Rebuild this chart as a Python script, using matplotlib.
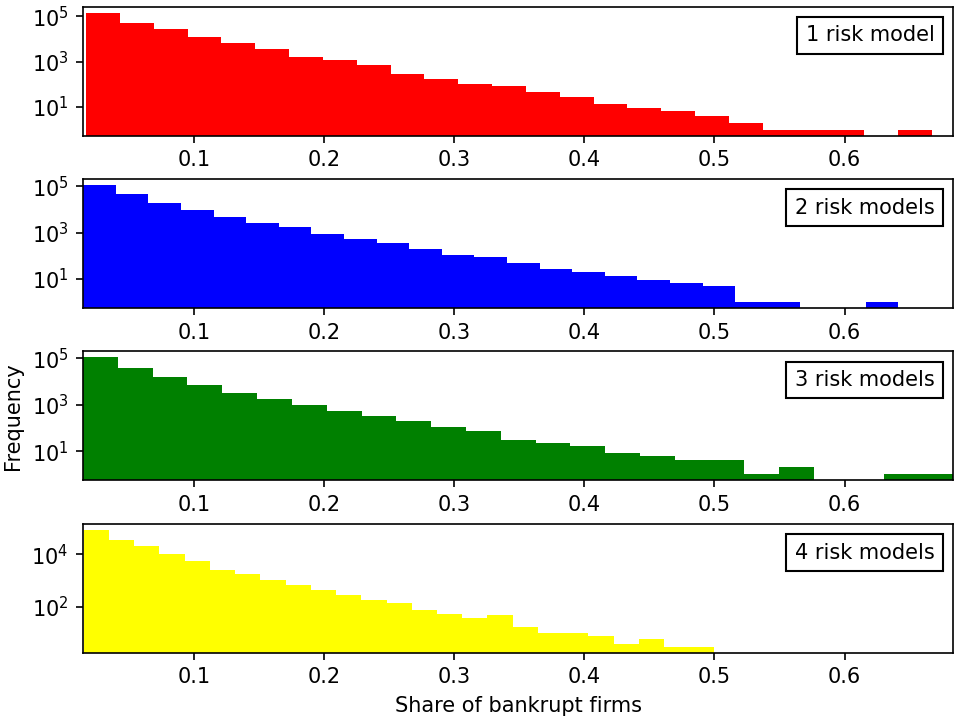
# Histograms of the share of bankrupt firms, one panel per number of risk models

import numpy as np
import matplotlib
matplotlib.use('agg')
import matplotlib.pyplot as plt
from matplotlib.offsetbox import AnchoredText

labels = ['1 risk model', '2 risk models', '3 risk models', '4 risk models']
colors = ['red', 'blue', 'green', 'yellow']

# (min, max) of the data in each panel, 25 bins each
range_1 = (0.0169, 0.6672)
range_2 = (0.0148, 0.6413)
range_3 = (0.0146, 0.6836)
range_4 = (0.0152, 0.5000)

counts_1 = [145000, 49000, 28000, 12300, 6700, 3600, 1600, 1150, 690, 295,
            172, 107, 87, 44, 29, 13, 9, 7, 4, 2, 1, 1, 1, 0, 1]
counts_2 = [114000, 44000, 18400, 9800, 4700, 2600, 1670, 860, 540, 363,
            200, 113, 87, 48, 26, 19, 14, 9, 7, 5, 1, 1, 0, 0, 1]
counts_3 = [110000, 39700, 15800, 6950, 3260, 1750, 935, 517, 327, 200,
            114, 74, 31, 22, 17, 8, 6, 4, 4, 1, 2, 0, 0, 1, 1]
counts_4 = [87500, 35300, 20200, 10000, 5400, 2600, 1770, 1080, 673, 434,
            279, 180, 138, 75, 54, 39, 47, 17, 10, 10, 8, 4, 6, 3, 3]

ranges = [range_1, range_2, range_3, range_4]
counts = [counts_1, counts_2, counts_3, counts_4]

x_lo = min(r[0] for r in ranges)
x_hi = max(r[1] for r in ranges)

fig, axes = plt.subplots(4, 1, figsize=(6.4, 4.8), dpi=150)
plt.subplots_adjust(left=0.0865, right=0.993, top=0.9907, bottom=0.0935, hspace=0.337)

for ax, rng, cnt, col, lab in zip(axes, ranges, counts, colors, labels):
    edges = np.linspace(rng[0], rng[1], len(cnt) + 1)
    ax.hist(edges[:-1], bins=edges, weights=cnt, color=col, log=True)
    ax.set_xlim(x_lo, x_hi)
    ax.add_artist(AnchoredText(lab, loc='upper right'))

axes[2].set_ylabel('Frequency')
axes[3].set_xlabel('Share of bankrupt firms')

plt.savefig('out.png')
